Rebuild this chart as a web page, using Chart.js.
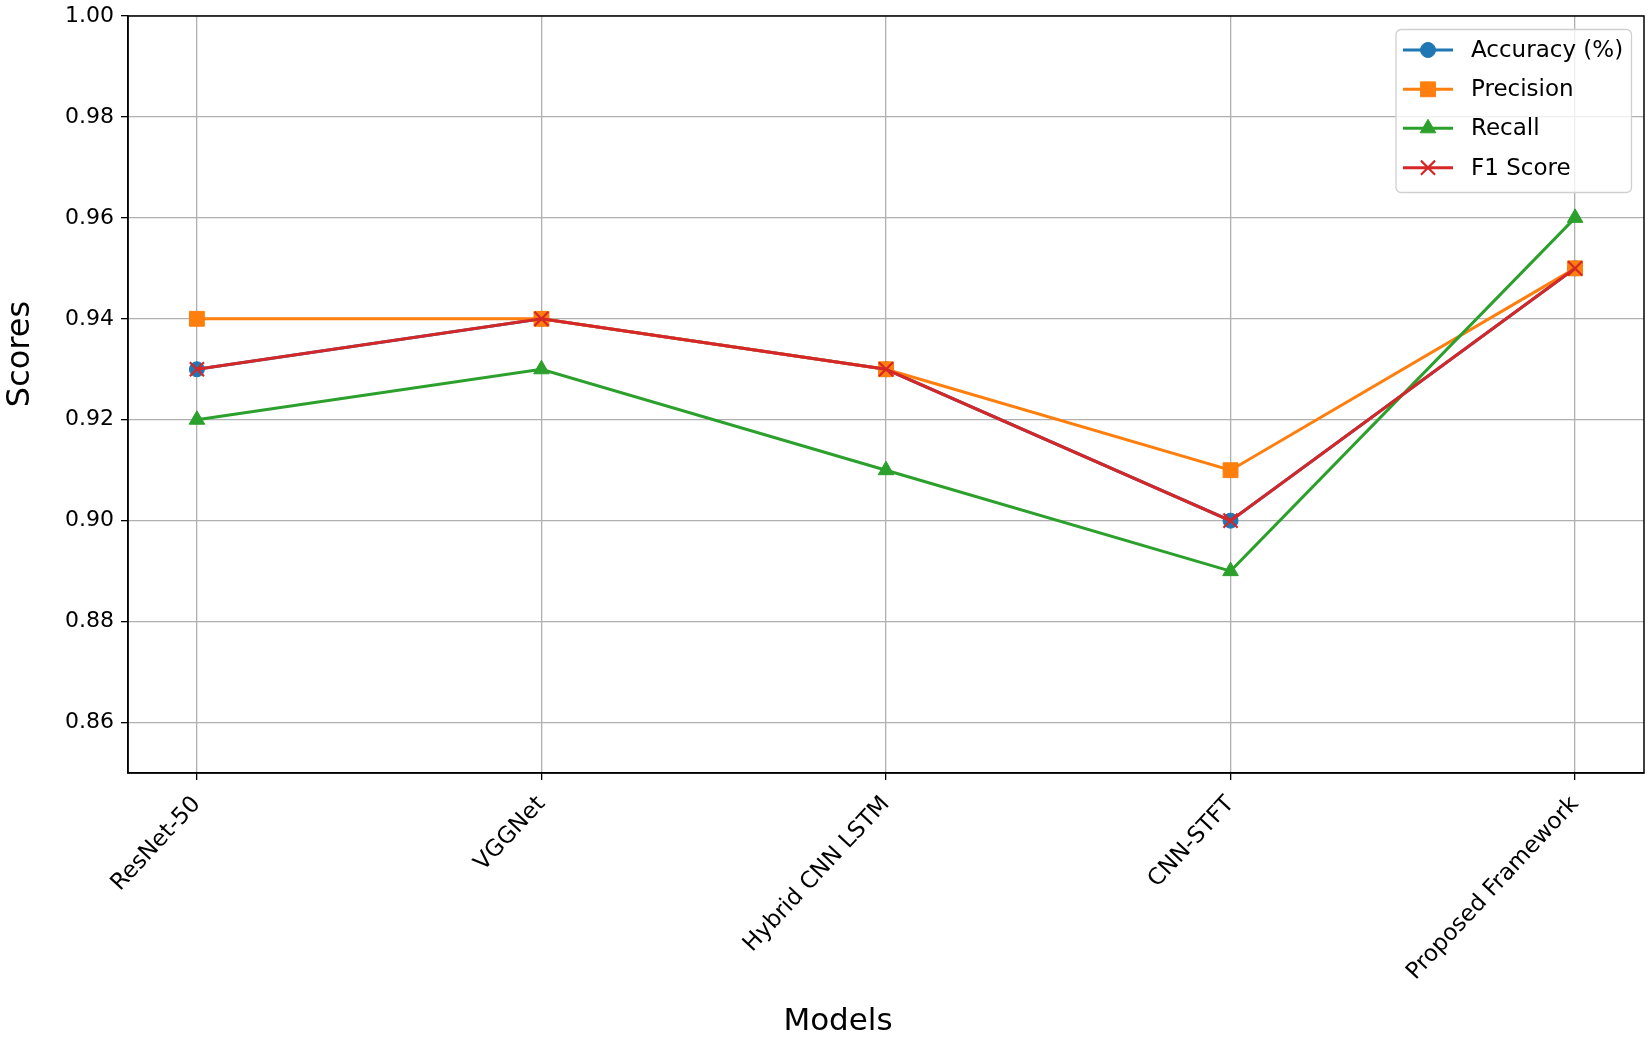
<!DOCTYPE html>
<html>
<head>
<meta charset="utf-8">
<script src="https://cdn.jsdelivr.net/npm/chart.js@4.4.1/dist/chart.umd.min.js"></script>
<style>
  html, body { margin: 0; padding: 0; background: #fff; }
  #chart { display: block; }
</style>
</head>
<body>
<canvas id="chart" width="1652" height="1042"></canvas>
<script>
const models = ["ResNet-50", "VGGNet", "Hybrid CNN LSTM", "CNN-STFT", "Proposed Framework"];
const accuracy = [0.93, 0.94, 0.93, 0.90, 0.95];
const precision = [0.94, 0.94, 0.93, 0.91, 0.95];
const recall = [0.92, 0.93, 0.91, 0.89, 0.96];
const f1Score = [0.93, 0.94, 0.93, 0.90, 0.95];
const yTicks = [0.86, 0.88, 0.90, 0.92, 0.94, 0.96, 0.98, 1.00];

const FONT = "'DejaVu Sans', sans-serif";

function series(label, values, color, style, radius, order, bw) {
  return {
    label,
    data: values.map((v, i) => ({ x: i, y: v })),
    borderColor: color,
    backgroundColor: color,
    borderWidth: 3,
    pointStyle: style,
    pointRadius: radius,
    pointHoverRadius: radius,
    pointBorderWidth: bw,
    pointBackgroundColor: color,
    pointBorderColor: color,
    tension: 0,
    order,
  };
}

const datasets = [
  series("Accuracy (%)", accuracy, "#1f77b4", "circle", 7.5, 3, 1),
  series("Precision", precision, "#ff7f0e", "rect", 10.5, 2, 1),
  series("Recall", recall, "#2ca02c", "triangle", 9, 1, 1),
  series("F1 Score", f1Score, "#d62728", "crossRot", 10, 0, 2.2),
];

// spines on top/right, axis titles, legend box in upper right
const extras = {
  id: "extras",
  afterDraw(chart) {
    const { ctx, chartArea: a } = chart;
    ctx.save();
    ctx.strokeStyle = "#000";
    ctx.lineWidth = 1.5;
    ctx.strokeRect(a.left, a.top, a.right - a.left, a.bottom - a.top);

    ctx.fillStyle = "#000";
    ctx.font = "31px " + FONT;
    ctx.textAlign = "center";
    ctx.textBaseline = "alphabetic";
    ctx.fillText("Models", 838, 1030);
    ctx.save();
    ctx.translate(21, 354);
    ctx.rotate(-Math.PI / 2);
    ctx.textBaseline = "middle";
    ctx.font = "32px " + FONT;
    ctx.fillText("Scores", 0, 0);
    ctx.restore();

    // legend
    const bx = 1396, by = 29.5, bw = 235.5, bh = 163, r = 5;
    ctx.beginPath();
    ctx.roundRect(bx, by, bw, bh, r);
    ctx.fillStyle = "rgba(255,255,255,0.8)";
    ctx.fill();
    ctx.strokeStyle = "#d0d0d0";
    ctx.lineWidth = 1.3;
    ctx.stroke();

    const rows = [50, 89.3, 128.3, 167.7];
    ctx.font = "23px " + FONT;
    ctx.textAlign = "left";
    ctx.textBaseline = "middle";
    datasets.forEach((ds, i) => {
      const y = rows[i];
      ctx.strokeStyle = ds.borderColor;
      ctx.fillStyle = ds.borderColor;
      ctx.lineWidth = ds.borderWidth;
      ctx.beginPath();
      ctx.moveTo(1403, y);
      ctx.lineTo(1453, y);
      ctx.stroke();
      ctx.lineWidth = ds.pointBorderWidth;
      Chart.helpers.drawPoint(ctx, {
        pointStyle: ds.pointStyle,
        radius: ds.pointRadius,
        rotation: 0,
        borderWidth: ds.pointBorderWidth,
      }, 1428, y);
      ctx.fillStyle = "#000";
      ctx.fillText(ds.label, 1471, y + 1);
    });
    ctx.restore();
  },
};

new Chart(document.getElementById("chart"), {
  type: "line",
  data: { datasets },
  options: {
    responsive: false,
    animation: false,
    events: [],
    layout: { autoPadding: false, padding: { top: 16, right: 8, left: 0, bottom: 0 } },
    plugins: { legend: { display: false }, tooltip: { enabled: false } },
    scales: {
      x: {
        type: "linear",
        min: -0.2,
        max: 4.2,
        afterBuildTicks(scale) {
          scale.ticks = models.map((m, i) => ({ value: i }));
        },
        afterFit(scale) {
          scale.height = 269;
          scale.paddingLeft = 0;
          scale.paddingRight = 0;
        },
        grid: { color: "#b0b0b0", lineWidth: 1.3, tickColor: "#000", tickLength: 7, tickWidth: 1.3 },
        border: { color: "#000", width: 1.5 },
        ticks: {
          autoSkip: false,
          minRotation: 47,
          maxRotation: 47,
          padding: 11,
          color: "#000",
          font: { family: FONT, size: 23 },
          callback: (v) => models[v],
        },
      },
      y: {
        min: 0.85,
        max: 1.0,
        afterBuildTicks(scale) {
          scale.ticks = yTicks.map((v) => ({ value: v }));
        },
        afterFit(scale) {
          scale.width = 128;
          scale.paddingTop = 0;
          scale.paddingBottom = 0;
        },
        grid: { color: "#b0b0b0", lineWidth: 1.3, tickColor: "#000", tickLength: 7, tickWidth: 1.3 },
        border: { color: "#000", width: 1.5 },
        ticks: {
          padding: 7,
          color: "#000",
          font: { family: FONT, size: 22 },
          callback: (v) => v.toFixed(2),
        },
      },
    },
  },
  plugins: [extras],
});
</script>
</body>
</html>
